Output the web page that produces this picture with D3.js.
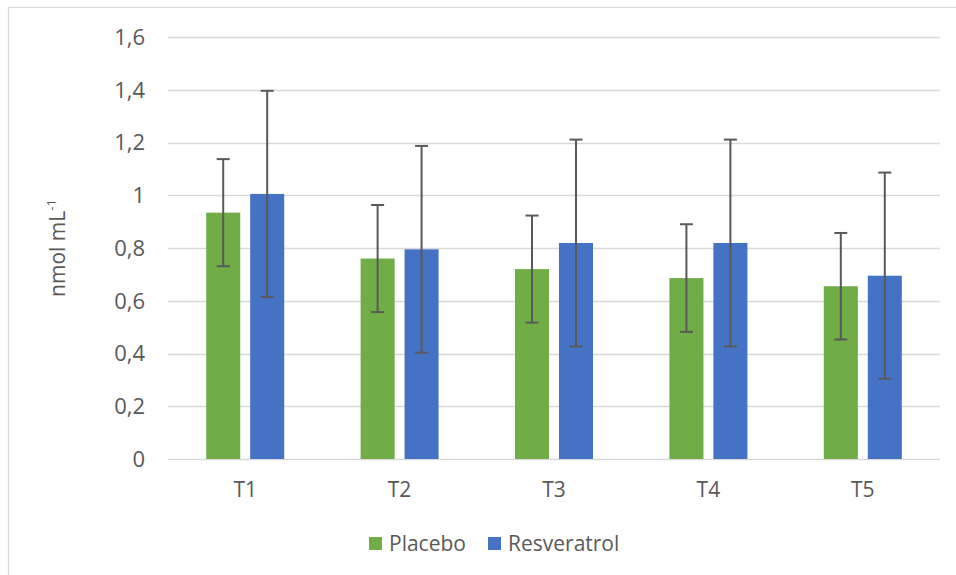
<!DOCTYPE html>
<html>
<head>
<meta charset="utf-8">
<script src="https://cdn.jsdelivr.net/npm/d3@7"></script>
<style>
	body { margin: 0; background: #fff; }
	svg { display: block; font-family: "Open Sans", sans-serif; }
</style>
</head>
<body>
<script>
var categories = ['T1', 'T2', 'T3', 'T4', 'T5'];
var seriesNames = ['Placebo', 'Resveratrol'];
var placebo = [0.934, 0.760, 0.720, 0.686, 0.655];
var resveratrol = [1.005, 0.795, 0.819, 0.819, 0.695];
var placeboErr = [0.203, 0.203, 0.203, 0.204, 0.202];
var resveratrolErr = [0.391, 0.392, 0.392, 0.392, 0.391];
var yTicks = [0, 0.2, 0.4, 0.6, 0.8, 1, 1.2, 1.4, 1.6];
var colors = ['#70ad47', '#4472c4'];

var width = 956, height = 575;
var plot = { left: 168, right: 940, top: 37, bottom: 459 };

var svg = d3.select('body').append('svg')
	.attr('width', width)
	.attr('height', height);

// chart frame
svg.append('rect')
	.attr('x', 8.5).attr('y', 7.5)
	.attr('width', 960).attr('height', 580)
	.attr('fill', 'none')
	.attr('stroke', '#d9d9d9')
	.attr('stroke-width', 1.2);

var x = d3.scaleBand()
	.domain(categories)
	.range([plot.left, plot.right])
	.paddingInner(0.4948)
	.paddingOuter(0.2474);

var x1 = d3.scaleBand()
	.domain(seriesNames)
	.range([0, x.bandwidth()])
	.paddingInner(0.2262);

var y = d3.scaleLinear()
	.domain([0, 1.6])
	.range([plot.bottom, plot.top]);

var fmt = function(d) { return String(d).replace('.', ','); };

// gridlines
svg.append('g')
	.selectAll('line')
	.data(yTicks)
	.join('line')
	.attr('x1', plot.left).attr('x2', plot.right)
	.attr('y1', d => Math.round(y(d)) + 0.5).attr('y2', d => Math.round(y(d)) + 0.5)
	.attr('stroke', '#d9d9d9')
	.attr('stroke-width', 1.5);

// y tick labels
svg.append('g')
	.selectAll('text')
	.data(yTicks)
	.join('text')
	.attr('x', 145)
	.attr('y', d => y(d))
	.attr('dy', '0.36em')
	.attr('text-anchor', 'end')
	.attr('font-size', 22)
	.attr('fill', '#595959')
	.text(fmt);

// x tick labels
svg.append('g')
	.selectAll('text')
	.data(categories)
	.join('text')
	.attr('x', d => x(d) + x.bandwidth() / 2)
	.attr('y', 497)
	.attr('text-anchor', 'middle')
	.attr('font-size', 21)
	.attr('fill', '#595959')
	.text(d => d);

// bars
var rows = categories.map((c, i) => ({
	cat: c,
	vals: [
		{ s: seriesNames[0], v: placebo[i], e: placeboErr[i], c: colors[0] },
		{ s: seriesNames[1], v: resveratrol[i], e: resveratrolErr[i], c: colors[1] }
	]
}));

var groups = svg.append('g')
	.selectAll('g')
	.data(rows)
	.join('g')
	.attr('transform', d => `translate(${x(d.cat)},0)`);

groups.selectAll('rect')
	.data(d => d.vals)
	.join('rect')
	.attr('x', d => x1(d.s))
	.attr('width', x1.bandwidth())
	.attr('y', d => y(d.v))
	.attr('height', d => y(0) - y(d.v))
	.attr('fill', d => d.c);

// error bars
var err = groups.selectAll('g.err')
	.data(d => d.vals)
	.join('g')
	.attr('class', 'err')
	.attr('stroke', '#595959')
	.attr('stroke-width', 2);

err.append('line')
	.attr('x1', d => x1(d.s) + x1.bandwidth() / 2)
	.attr('x2', d => x1(d.s) + x1.bandwidth() / 2)
	.attr('y1', d => y(d.v + d.e))
	.attr('y2', d => y(d.v - d.e));

[1, -1].forEach(sign => {
	err.append('line')
		.attr('x1', d => x1(d.s) + x1.bandwidth() / 2 - 6.5)
		.attr('x2', d => x1(d.s) + x1.bandwidth() / 2 + 6.5)
		.attr('y1', d => y(d.v + sign * d.e))
		.attr('y2', d => y(d.v + sign * d.e));
});

// y axis title
var yTitle = svg.append('text')
	.attr('transform', 'translate(65,248) rotate(-90)')
	.attr('text-anchor', 'middle')
	.attr('font-size', 21)
	.attr('fill', '#595959');
yTitle.append('tspan').text('nmol mL');
yTitle.append('tspan').attr('dy', -9).attr('font-size', 13).text('-1');

// legend
var legendX = [369, 488];
var legend = svg.append('g')
	.selectAll('g')
	.data(seriesNames)
	.join('g')
	.attr('transform', (d, i) => `translate(${legendX[i]},537)`);

legend.append('rect')
	.attr('width', 13).attr('height', 13)
	.attr('fill', (d, i) => colors[i]);

legend.append('text')
	.attr('x', 20)
	.attr('y', 14)
	.attr('font-size', 21)
	.attr('fill', '#595959')
	.text(d => d);
</script>
</body>
</html>
